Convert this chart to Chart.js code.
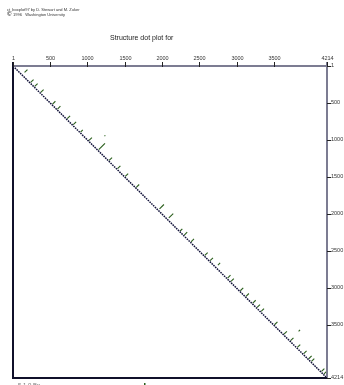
<!DOCTYPE html>
<html>
<head>
<meta charset="utf-8">
<script src="https://cdn.jsdelivr.net/npm/chart.js@4"></script>
<style>
  html, body { margin: 0; padding: 0; background: #fff; }
  #c { display: block; }
</style>
</head>
<body>
<canvas id="c" width="344" height="385"></canvas>
<script>
// Sequence length and axis ticks
const seqLength = 4214;
const xTicks = [1, 500, 1000, 1500, 2000, 2500, 3000, 3500, 4214];
const yTicks = [1, 500, 1000, 1500, 2000, 2500, 3000, 3500, 4214];

// Helices: outer pair (helixI, helixJ) and length in base pairs
const helixI   = [49, 184, 238, 319, 477, 544, 674, 755, 864, 967, 937, 1045, 1237, 1349, 1453, 1601, 1871, 1993, 2200, 2245, 2336, 2520, 2591, 2660, 2826, 2871, 2997, 3073, 3164, 3222, 3276, 3456, 3583, 3671, 3762, 3565, 3847, 3915, 3951, 4086, 4120];
const helixJ   = [195, 277, 331, 412, 570, 637, 767, 848, 937, 1060, 1240, 1235, 1330, 1442, 1546, 1694, 2026, 2151, 2273, 2338, 2429, 2613, 2684, 2780, 2919, 2964, 3090, 3166, 3257, 3315, 3369, 3549, 3676, 3764, 3855, 3852, 3940, 4008, 4044, 4179, 4213];
const helixLen = [40, 40, 40, 40, 40, 40, 40, 40, 30, 40, 12, 85, 40, 40, 40, 40, 60, 60, 30, 40, 40, 40, 40, 30, 40, 40, 40, 40, 40, 40, 40, 40, 40, 40, 40, 20, 40, 40, 40, 40, 40];

const datasets = [];

// Diagonale principale
datasets.push({
    data: [{x: 1, y: 1}, {x: seqLength, y: seqLength}],
    showLine: true,
    borderColor: '#12123a',
    borderWidth: 1.5,
    borderDash: [1.6, 0.9],
    pointRadius: 0
});

// Une série par hélice
for (let k = 0; k < helixI.length; k++) {
    const i = helixI[k], j = helixJ[k], n = helixLen[k];
    datasets.push({
        data: [{x: j, y: i}, {x: j - n + 1, y: i + n - 1}],
        showLine: true,
        borderColor: '#2a5e1c',
        borderWidth: 1.1,
        pointRadius: 0
    });
}

// Axes et textes dessinés à partir des échelles
const framePlugin = {
    id: 'frame',
    afterDraw(chart) {
        const ctx = chart.ctx;
        const xs = chart.scales.x, ys = chart.scales.y;
        const left = xs.getPixelForValue(1), right = xs.getPixelForValue(seqLength);
        const top = ys.getPixelForValue(1), bottom = ys.getPixelForValue(seqLength);
        ctx.save();

        // en-tête
        ctx.fillStyle = '#333';
        ctx.font = '4px "Liberation Sans", Arial, sans-serif';
        ctx.textBaseline = 'middle';
        ctx.fillText('ct_boxplot97 by D. Stewart and M. Zuker', 7, 10);
        ctx.font = 'bold 6px "Liberation Sans", Arial, sans-serif';
        ctx.fillText('\u00a9', 7, 14.5);
        ctx.font = '4px "Liberation Sans", Arial, sans-serif';
        ctx.fillText('1996   Washington University', 13, 14.5);

        // titre
        ctx.fillStyle = '#222';
        ctx.font = '7px "Liberation Sans", Arial, sans-serif';
        ctx.fillText('Structure dot plot for', 110, 38);

        // cadre
        ctx.lineWidth = 2;
        ctx.strokeStyle = '#7c7c92';
        ctx.beginPath();
        ctx.moveTo(left, top); ctx.lineTo(right, top);
        ctx.moveTo(right, top - 4); ctx.lineTo(right, bottom);
        ctx.stroke();
        ctx.strokeStyle = '#10102a';
        ctx.beginPath();
        ctx.moveTo(left, top - 4); ctx.lineTo(left, bottom);
        ctx.lineTo(right, bottom);
        ctx.stroke();

        // graduations du haut
        ctx.lineWidth = 1;
        ctx.strokeStyle = '#222';
        ctx.fillStyle = '#333';
        ctx.font = '5.5px "Liberation Sans", Arial, sans-serif';
        ctx.textAlign = 'center';
        ctx.textBaseline = 'bottom';
        xTicks.forEach(v => {
            const px = Math.round(xs.getPixelForValue(v)) + 0.5;
            ctx.beginPath();
            ctx.moveTo(px, top - 4); ctx.lineTo(px, top + 1);
            ctx.stroke();
            ctx.fillText(String(v), px, top - 5);
        });

        // graduations de droite
        ctx.textAlign = 'left';
        ctx.textBaseline = 'bottom';
        yTicks.forEach(v => {
            const py = Math.round(ys.getPixelForValue(v)) + 0.5;
            ctx.beginPath();
            ctx.moveTo(right, py); ctx.lineTo(right + 4, py);
            ctx.stroke();
            ctx.fillText(String(v), right + 4, py + 2);
        });

        // légende du bas (coupée)
        ctx.fillStyle = '#777';
        ctx.font = '6px "Liberation Sans", Arial, sans-serif';
        ctx.textBaseline = 'middle';
        ctx.fillText('5.1 0 Bp', 18, 385);
        ctx.fillStyle = '#2a5e1c';
        ctx.fillRect(144, 383, 1.5, 2);
        ctx.restore();
    }
};

new Chart(document.getElementById('c'), {
    type: 'scatter',
    data: { datasets: datasets },
    options: {
        responsive: false,
        animation: false,
        devicePixelRatio: 1,
        layout: { padding: { left: 13, right: 17, top: 66, bottom: 7 } },
        plugins: { legend: { display: false }, tooltip: { enabled: false } },
        scales: {
            x: { type: 'linear', min: 1, max: seqLength, display: false },
            y: { type: 'linear', min: 1, max: seqLength, reverse: true, display: false }
        }
    },
    plugins: [framePlugin]
});
</script>
</body>
</html>
